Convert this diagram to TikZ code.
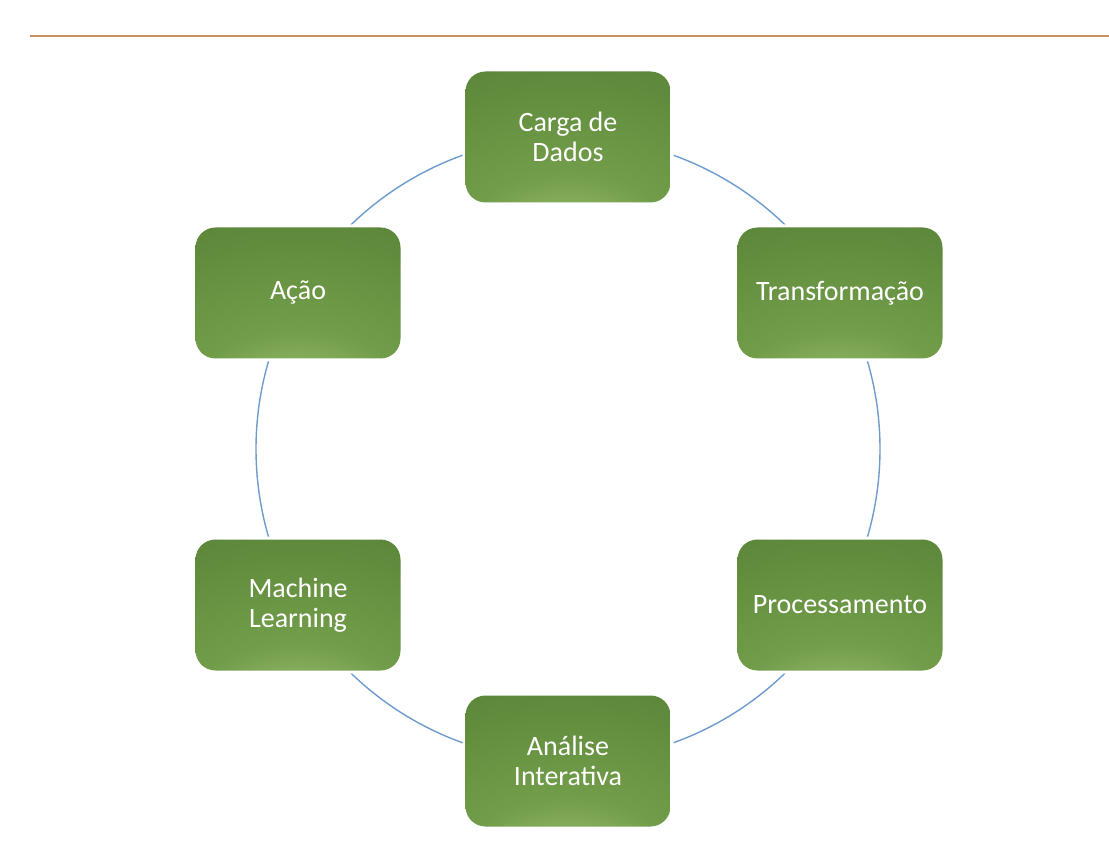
\documentclass[tikz,border=0pt]{standalone}
\usepackage{fontspec}
\setmainfont{Carlito}
\definecolor{g0}{RGB}{180,212,148}
\definecolor{g1}{RGB}{148,186,108}
\definecolor{g2}{RGB}{114,157,74}
\definecolor{g3}{RGB}{100,143,63}
\definecolor{g4}{RGB}{90,131,55}
\definecolor{g5}{RGB}{80,118,47}
\definecolor{g6}{RGB}{74,110,43}
\definecolor{ringc}{RGB}{110,155,205}
\definecolor{rulec}{RGB}{200,145,95}
\pgfdeclareradialshading{boxgrad}{\pgfpoint{0bp}{-50bp}}{color(0bp)=(g0); color(10bp)=(g1); color(25bp)=(g2); color(45bp)=(g3); color(60bp)=(g4); color(80bp)=(g5); color(115bp)=(g6)}
\tikzset{
  stagebox/.style={shape=rectangle, rounded corners=20pt, minimum width=205pt, minimum height=131pt,
    shading=boxgrad, preaction={draw=white, line width=6pt},
    text=white, align=center, font=\fontsize{28}{30}\selectfont, inner sep=0pt},
  ring/.style={draw=ringc, line width=1.4pt}
}
\begin{document}
\begin{tikzpicture}[x=1pt,y=-1pt]
\useasboundingbox (0,0) rectangle (1109,842);
\coordinate (rl) at (30,36);
\coordinate (rr) at (1109,36);
\draw[rulec, line width=1.5pt] (rl) -- (rr);
\coordinate (cc) at (568,449);
\draw[ring] (cc) circle[radius=312];
\node[stagebox] (carga) at (568,137) {Carga de\\Dados};
\node[stagebox] (trans) at (840,293) {Transformação};
\node[stagebox] (proc) at (840,605) {Processamento};
\node[stagebox] (anal) at (568,761) {Análise\\Interativa};
\node[stagebox] (ml) at (298,605) {Machine\\Learning};
\node[stagebox] (acao) at (298,293) {Ação};
\end{tikzpicture}
\end{document}
